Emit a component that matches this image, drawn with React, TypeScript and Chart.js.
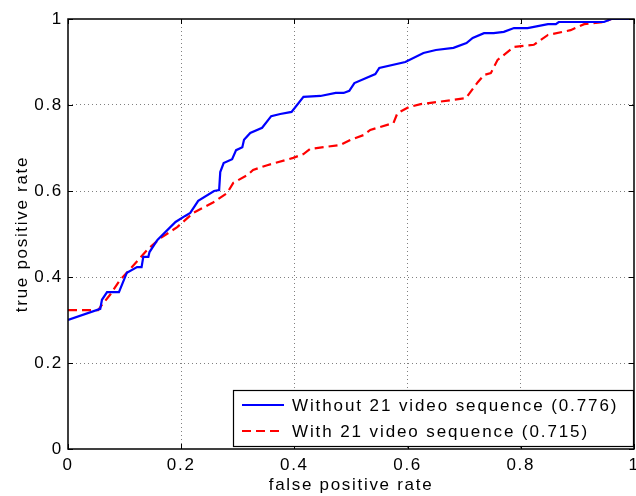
import React, { useEffect, useRef } from "react";
import { Chart, registerables } from "chart.js";

Chart.register(...registerables);

const fprWithout = [0, 0.057, 0.06, 0.069, 0.09, 0.104, 0.122, 0.13, 0.133, 0.142, 0.144, 0.158, 0.19, 0.207, 0.216, 0.23, 0.258, 0.267, 0.269, 0.275, 0.29, 0.297, 0.308, 0.311, 0.322, 0.343, 0.359, 0.375, 0.395, 0.416, 0.446, 0.473, 0.487, 0.497, 0.506, 0.543, 0.55, 0.596, 0.628, 0.65, 0.681, 0.704, 0.715, 0.735, 0.752, 0.77, 0.788, 0.812, 0.848, 0.862, 0.867, 0.947, 0.96, 1];
const tprWithout = [0.3, 0.326, 0.347, 0.365, 0.365, 0.41, 0.423, 0.423, 0.447, 0.447, 0.458, 0.486, 0.528, 0.542, 0.549, 0.577, 0.6, 0.602, 0.644, 0.665, 0.674, 0.695, 0.702, 0.719, 0.735, 0.747, 0.774, 0.779, 0.784, 0.819, 0.821, 0.828, 0.828, 0.833, 0.851, 0.872, 0.886, 0.9, 0.921, 0.928, 0.933, 0.944, 0.956, 0.967, 0.967, 0.97, 0.979, 0.979, 0.988, 0.988, 0.993, 0.993, 1, 1];

const fprWith = [0, 0.053, 0.06, 0.074, 0.092, 0.113, 0.14, 0.163, 0.193, 0.221, 0.257, 0.281, 0.292, 0.317, 0.327, 0.352, 0.398, 0.416, 0.428, 0.481, 0.499, 0.522, 0.534, 0.575, 0.582, 0.602, 0.623, 0.658, 0.703, 0.724, 0.735, 0.747, 0.759, 0.788, 0.823, 0.848, 0.888, 0.912, 0.947, 0.96, 1];
const tprWith = [0.323, 0.323, 0.335, 0.358, 0.393, 0.423, 0.463, 0.49, 0.516, 0.549, 0.574, 0.595, 0.619, 0.637, 0.649, 0.66, 0.677, 0.686, 0.698, 0.707, 0.719, 0.73, 0.742, 0.758, 0.781, 0.795, 0.802, 0.808, 0.816, 0.853, 0.87, 0.874, 0.905, 0.935, 0.94, 0.963, 0.974, 0.988, 0.993, 1, 1];

const seriesLabels = ["Without 21 video sequence (0.776)", "With 21 video sequence (0.715)"];
const xTitle = "false positive rate";
const yTitle = "true positive rate";

const FONT = "'Liberation Sans', Arial, Helvetica, sans-serif";
const SPACING = "1.7px";

const toPoints = (xs: number[], ys: number[]) => xs.map((x, i) => ({ x, y: ys[i] }));

const spacingPlugin = {
  id: "spacing",
  beforeLayout(chart: any) {
    (chart.ctx as any).letterSpacing = SPACING;
  },
  beforeDraw(chart: any) {
    (chart.ctx as any).letterSpacing = SPACING;
  },
};

const framePlugin = {
  id: "frame",
  afterDatasetsDraw(chart: any) {
    const { ctx, chartArea: a, scales } = chart;
    ctx.save();
    ctx.strokeStyle = "#000";
    ctx.lineWidth = 1;
    const tl = 5;
    ctx.beginPath();
    scales.x.ticks.forEach((t: any) => {
      const px = Math.round(scales.x.getPixelForValue(t.value)) + 0.5;
      ctx.moveTo(px, a.bottom);
      ctx.lineTo(px, a.bottom - tl);
      ctx.moveTo(px, a.top);
      ctx.lineTo(px, a.top + tl);
    });
    scales.y.ticks.forEach((t: any) => {
      const py = Math.round(scales.y.getPixelForValue(t.value)) + 0.5;
      ctx.moveTo(a.left, py);
      ctx.lineTo(a.left + tl, py);
      ctx.moveTo(a.right, py);
      ctx.lineTo(a.right - tl, py);
    });
    ctx.stroke();
    ctx.lineWidth = 1.5;
    ctx.strokeRect(a.left, a.top, a.right - a.left, a.bottom - a.top);

    // legend
    const bx = 233, by = 390, bw = a.right - 233, bh = 57;
    ctx.fillStyle = "#fff";
    ctx.fillRect(bx, by, bw, bh);
    ctx.lineWidth = 1.2;
    ctx.strokeStyle = "#000";
    ctx.strokeRect(bx + 0.5, by + 0.5, bw - 1, bh - 1);
    const rows = [
      { y: 405, color: "#0000ff", dash: [] as number[] },
      { y: 431, color: "#ff0000", dash: [9, 5] },
    ];
    rows.forEach((r, i) => {
      ctx.beginPath();
      ctx.setLineDash(r.dash);
      ctx.strokeStyle = r.color;
      ctx.lineWidth = 2.2;
      ctx.moveTo(242, r.y);
      ctx.lineTo(284, r.y);
      ctx.stroke();
      ctx.setLineDash([]);
      ctx.fillStyle = "#000";
      ctx.font = `17px ${FONT}`;
      (ctx as any).letterSpacing = "1.9px";
      ctx.textBaseline = "middle";
      ctx.textAlign = "left";
      ctx.fillText(seriesLabels[i], 292, r.y + 1);
    });
    ctx.restore();
  },
};

const gridColor = (c: any) =>
  c.tick && (c.tick.value === 0 || c.tick.value === 1) ? "rgba(0,0,0,0)" : "#808080";

export default function App() {
  const ref = useRef<HTMLCanvasElement | null>(null);
  useEffect(() => {
    if (!ref.current) return;
    const chart = new Chart(ref.current, {
      type: "scatter",
      data: {
        datasets: [
          {
            label: seriesLabels[0],
            data: toPoints(fprWithout, tprWithout),
            showLine: true,
            borderColor: "#0000ff",
            backgroundColor: "#0000ff",
            borderWidth: 2.2,
            pointRadius: 0,
            tension: 0,
          },
          {
            label: seriesLabels[1],
            data: toPoints(fprWith, tprWith),
            showLine: true,
            borderColor: "#ff0000",
            backgroundColor: "#ff0000",
            borderWidth: 2.2,
            borderDash: [9, 5],
            pointRadius: 0,
            tension: 0,
          },
        ],
      },
      options: {
        animation: false,
        responsive: false,
        devicePixelRatio: 1,
        layout: { padding: { top: 19, right: 2, left: 0, bottom: 0 } },
        plugins: { legend: { display: false }, tooltip: { enabled: false } },
        scales: {
          x: {
            type: "linear",
            min: 0,
            max: 1,
            afterFit: (s: any) => {
              s.height = 47;
              s.paddingLeft = 0;
              s.paddingRight = 0;
            },
            ticks: {
              stepSize: 0.2,
              padding: 6,
              color: "#000",
              font: { family: FONT, size: 17 },
              callback: (v: any) => String(Math.round(Number(v) * 10) / 10),
            },
            grid: {
              drawTicks: false,
              color: gridColor,
              lineWidth: 1,
            },
            border: { display: false, dash: [1, 3] } as any,
            title: {
              display: true,
              text: xTitle,
              color: "#000",
              font: { family: FONT, size: 17 },
              padding: { top: -5, bottom: 0 },
            },
          },
          y: {
            type: "linear",
            min: 0,
            max: 1,
            afterFit: (s: any) => {
              s.width = 68;
              s.paddingTop = 0;
              s.paddingBottom = 0;
            },
            ticks: {
              stepSize: 0.2,
              padding: 5,
              color: "#000",
              font: { family: FONT, size: 17 },
              callback: (v: any) => String(Math.round(Number(v) * 10) / 10),
            },
            grid: {
              drawTicks: false,
              color: gridColor,
              lineWidth: 1,
            },
            border: { display: false, dash: [1, 3] } as any,
            title: {
              display: true,
              text: yTitle,
              color: "#000",
              font: { family: FONT, size: 17 },
              padding: { top: 12, bottom: 0 },
            },
          },
        },
      } as any,
      plugins: [spacingPlugin, framePlugin],
    });
    return () => chart.destroy();
  }, []);
  return (
    <div style={{ position: "fixed", left: 0, top: 0, width: 636, height: 496, background: "#fff" }}>
      <canvas ref={ref} width={636} height={496} style={{ display: "block" }} />
    </div>
  );
}
